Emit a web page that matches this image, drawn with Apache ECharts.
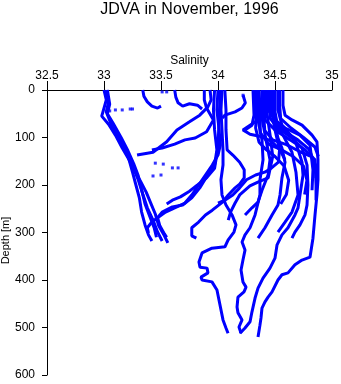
<!DOCTYPE html>
<html><head><meta charset="utf-8">
<script src="https://cdn.jsdelivr.net/npm/echarts@6/dist/echarts.min.js"></script>
<style>html,body{margin:0;padding:0;background:#fff}#c{width:341px;height:384px}</style>
</head><body><div id="c"></div>
<script>
const titleText = 'JDVA in November, 1996';
const xName = 'Salinity';
const yName = 'Depth [m]';
const xTicks = [32.5, 33, 33.5, 34, 34.5, 35];
const yTicks = [0, 100, 200, 300, 400, 500, 600];

// [salinity, depth]
const left1 = [[33.00,0],[33.02,21],[33.00,38],[32.98,55],[33.04,72],[33.10,95],[33.16,122],[33.22,147],[33.25,173],[33.28,200],[33.31,227],[33.33,257],[33.36,284],[33.39,305],[33.42,318]];
const left2 = [[33.02,0],[33.04,25],[33.02,46],[33.07,76],[33.14,105],[33.20,133],[33.25,160],[33.30,189],[33.34,219],[33.38,248],[33.43,274],[33.47,299],[33.51,318]];
const left3 = [[33.03,0],[33.05,30],[33.03,50],[33.08,70],[33.15,100],[33.21,128],[33.26,155],[33.30,180],[33.33,210],[33.36,240],[33.40,265],[33.44,290],[33.46,310]];
const left4 = [[33.18,120],[33.22,147],[33.27,170],[33.32,192],[33.37,215],[33.41,238],[33.45,261],[33.48,286],[33.53,307],[33.56,322]];
const near1 = [[33.34,0],[33.35,13],[33.38,25],[33.42,34],[33.47,38],[33.50,34]];
const near2 = [[33.62,0],[33.63,15],[33.65,27],[33.69,34],[33.75,29],[33.82,32],[33.86,40]];
const mid1 = [[33.93,0],[33.94,21],[33.91,36],[33.84,53],[33.75,67],[33.64,84],[33.55,109],[33.43,131],[33.38,133],[33.29,137]];
const mid2 = [[33.88,0],[33.88,21],[33.90,38],[33.96,63],[33.90,88],[33.80,101],[33.71,105],[33.62,114],[33.51,122],[33.42,126]];
const mid3 = [[34.00,0],[33.99,42],[34.01,84],[34.02,116],[34.00,137],[33.95,158],[33.89,179],[33.83,200],[33.77,221],[33.71,238],[33.62,248],[33.54,257],[33.47,269],[33.42,278],[33.38,290],[33.39,301]];
const mid4 = [[34.06,0],[34.07,42],[34.07,84],[34.08,126],[34.13,137],[34.19,152],[34.23,168],[34.23,185],[34.19,198],[34.15,206],[34.09,221],[34.04,236],[33.95,253],[33.89,263],[33.83,278],[33.77,290],[33.77,307],[33.81,312]];
const mid5 = [[33.97,0],[33.96,42],[33.97,84],[33.99,126],[33.97,158],[33.91,179],[33.84,206],[33.77,227],[33.69,242],[33.60,246],[33.51,257],[33.47,269],[33.49,286],[33.53,303],[33.55,310]];
const mid6 = [[34.02,0],[34.01,60],[34.00,120],[33.97,165],[33.90,185],[33.82,200],[33.75,213],[33.67,225],[33.60,232],[33.55,240]];
const central = [[34.035,0],[34.026,42],[34.035,84],[34.044,126],[34.044,158],[34.026,189],[34.035,221],[34.070,242],[34.123,263],[34.158,284],[34.140,299],[34.088,316],[34.061,330],[33.947,333],[33.860,343],[33.833,362],[33.842,373],[33.904,375],[33.912,385],[33.851,394],[33.860,400],[33.947,404],[33.991,421],[34.018,453],[34.044,484],[34.070,501],[34.088,512]];
const cross1 = [[34.22,11],[34.24,27],[34.21,38],[34.15,46],[34.06,53],[34.04,59]];
const right1 = [[34.57,0],[34.57,32],[34.588,53],[34.649,63],[34.737,74],[34.825,95],[34.868,109],[34.877,147],[34.877,189],[34.868,221],[34.851,263],[34.833,312],[34.807,352],[34.737,358],[34.675,368],[34.614,385],[34.561,389],[34.526,400],[34.474,425],[34.439,436],[34.412,446],[34.386,459],[34.377,480],[34.368,495],[34.351,520]];
const right2 = [[34.526,0],[34.526,42],[34.561,74],[34.675,105],[34.737,152],[34.746,179],[34.719,221],[34.702,248],[34.675,263],[34.614,290],[34.561,305],[34.518,326],[34.5,354],[34.456,375],[34.395,396],[34.351,417],[34.325,438],[34.298,467],[34.281,488],[34.237,501],[34.193,512]];
const right3 = [[34.5,0],[34.5,46],[34.526,80],[34.649,101],[34.737,122],[34.781,158],[34.789,200],[34.781,242],[34.763,263],[34.719,284],[34.675,299],[34.649,312]];
const right4 = [[34.482,0],[34.482,53],[34.526,101],[34.561,122],[34.588,152],[34.561,185],[34.544,221],[34.526,242],[34.474,263],[34.412,290],[34.351,312]];
const right5 = [[34.456,0],[34.456,59],[34.570,95],[34.649,131],[34.684,173],[34.702,221],[34.649,257],[34.588,278],[34.526,299]];
const right6 = [[34.386,0],[34.386,59],[34.421,105],[34.456,147],[34.439,179],[34.386,211],[34.351,236],[34.298,248],[34.237,263]];
const right7 = [[34.351,0],[34.351,63],[34.386,105],[34.395,147],[34.368,189],[34.368,221],[34.325,263],[34.281,290],[34.237,305],[34.211,320],[34.237,337],[34.219,358],[34.202,379],[34.219,404],[34.246,415],[34.228,425],[34.175,436],[34.167,457],[34.175,469],[34.211,484],[34.184,499],[34.202,512]];
const right8 = [[34.325,0],[34.325,42],[34.351,63],[34.281,74],[34.219,84],[34.281,93],[34.395,99],[34.474,109],[34.544,126],[34.588,147]];
const right9 = [[34.412,0],[34.412,63],[34.5,84],[34.632,105],[34.763,126],[34.851,147],[34.860,200],[34.860,232]];
const right10 = [[34.439,0],[34.439,42],[34.5,63],[34.588,80],[34.719,95],[34.807,116],[34.833,168],[34.825,211]];
const right11 = [[34.307,0],[34.316,53],[34.298,74],[34.237,84]];
const right12 = [[34.47,0],[34.47,42],[34.50,84],[34.54,126],[34.53,152],[34.47,164],[34.41,173],[34.33,179],[34.25,189],[34.19,206],[34.13,221],[34.06,232],[34.00,238]];
const right13 = [[34.43,0],[34.43,50],[34.46,100],[34.48,140],[34.44,185],[34.35,194],[34.28,202],[34.19,221],[34.15,238],[34.11,257],[34.09,274]];
const bundle1 = [[34.33,0],[34.34,40],[34.33,80],[34.36,110],[34.42,125],[34.50,140],[34.58,160],[34.62,190],[34.60,220],[34.55,240]];
const bundle2 = [[34.36,0],[34.37,45],[34.37,90],[34.45,115],[34.55,125],[34.66,140],[34.75,160],[34.78,190],[34.76,220]];
const bundle3 = [[34.40,0],[34.40,50],[34.41,85],[34.48,105],[34.60,115],[34.72,130],[34.82,140],[34.86,160],[34.86,185]];
const bundle4 = [[34.49,0],[34.49,40],[34.51,70],[34.60,90],[34.70,105],[34.80,125],[34.84,150],[34.85,175]];
const bundle5 = [[34.54,0],[34.54,30],[34.55,60],[34.64,80],[34.75,100],[34.85,120],[34.88,140]];
const dots = [[33.05,44],[33.10,42],[33.16,42],[33.23,40],[33.25,40],[33.51,4],[33.55,4],[34.22,11],[33.45,154],[33.52,156],[33.43,181],[33.50,179],[33.60,164],[33.65,164]];

const profiles = [left1,left2,left3,left4,near1,near2,mid1,mid2,mid3,mid4,mid5,mid6,central,cross1,
  right1,right2,right3,right4,right5,right6,right7,right8,right9,right10,right11,right12,right13,
  bundle1,bundle2,bundle3,bundle4,bundle5];

const blue = '#0000ff';
const series = profiles.map(p => ({
  type: 'line', data: p, showSymbol: false, silent: true,
  lineStyle: {color: blue, width: 3}, itemStyle: {color: blue}
}));
series.push({type: 'scatter', data: dots, symbol: 'rect', symbolSize: 3, itemStyle: {color: blue}, silent: true});

const chart = echarts.init(document.getElementById('c'), null, {renderer: 'canvas'});
chart.setOption({
  animation: false,
  backgroundColor: '#fff',
  title: {text: titleText, left: 189.5, textAlign: 'center', top: 2, padding: 0,
    textStyle: {fontFamily: 'Liberation Sans', fontSize: 16, fontWeight: 'normal', color: '#000'}},
  grid: {left: 47, right: 9, top: 90, bottom: 9, containLabel: false, outerBoundsMode: 'none'},
  xAxis: {type: 'value', position: 'top', min: xTicks[0], max: xTicks[xTicks.length-1], interval: 0.5,
    name: xName, nameLocation: 'middle', nameGap: 23, nameMoveOverlap: false,
    nameTextStyle: {fontFamily: 'Liberation Sans', fontSize: 12, color: '#000', verticalAlign: 'bottom'},
    axisLine: {lineStyle: {color: '#000', width: 1}},
    axisTick: {length: 9, lineStyle: {color: '#000'}},
    axisLabel: {fontFamily: 'Liberation Sans', fontSize: 12, color: '#000', margin: 8, showMinLabel: true, showMaxLabel: true},
    splitLine: {show: false}},
  yAxis: {type: 'value', inverse: true, min: yTicks[0], max: yTicks[yTicks.length-1], interval: 100,
    name: yName, nameLocation: 'middle', nameGap: 36, nameRotate: 90, nameMoveOverlap: false,
    nameTextStyle: {fontFamily: 'Liberation Sans', fontSize: 11, color: '#000', padding: [0, 16, 0, 0]},
    axisLine: {lineStyle: {color: '#000', width: 1}},
    axisTick: {length: 5, lineStyle: {color: '#000'}},
    axisLabel: {fontFamily: 'Liberation Sans', fontSize: 12, color: '#000', margin: 12},
    splitLine: {show: false}},
  series: series
});
</script></body></html>
